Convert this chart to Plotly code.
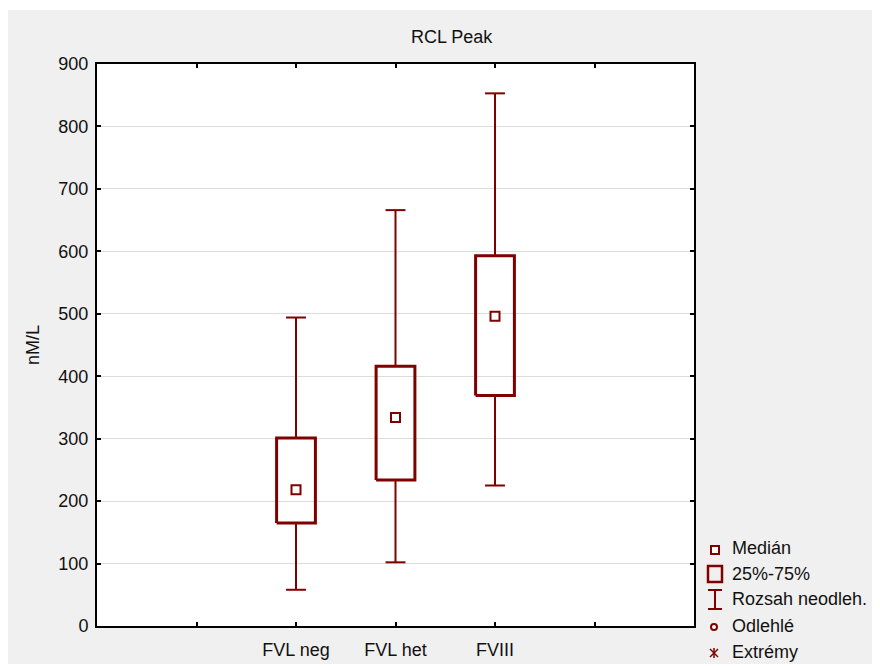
import plotly.graph_objects as go

# ---- data ----
categories = ["FVL neg", "FVL het", "FVIII"]
cat_pos = [2, 3, 4]
whisker_low = [58, 102, 225]
q1 = [165, 234, 369]
median = [218, 334, 496]
q3 = [301, 416, 593]
whisker_high = [494, 666, 853]

y_ticks = [0, 100, 200, 300, 400, 500, 600, 700, 800, 900]
x_tick_vals = [0, 1, 2, 3, 4, 5, 6]
x_tick_text = ["", "", "FVL neg", "FVL het", "FVIII", "", ""]

legend_labels = ["Medián", "25%-75%", "Rozsah neodleh.", "Odlehlé", "Extrémy"]

RED = "#800000"
FONT = "Liberation Sans, Arial"
FS = 18
OFF = 8                       # page offset of the figure (body margin)
W, H = 872, 656               # figure size
L, R, T, B = 97, 694, 64, 626  # plot area in page pixels


def px(x):
    return (x - L) / (R - L)


def py(y):
    return (B - y) / (B - T)


fig = go.Figure()

box_half = 0.195
cap_half = 0.1
shapes = []
# gray panel + white plot area
shapes.append(dict(type="rect", xref="paper", yref="paper", x0=px(0), x1=px(900), y0=py(700), y1=py(10),
                   fillcolor="#f0f0f0", line=dict(width=0), layer="below"))
shapes.append(dict(type="rect", xref="paper", yref="paper", x0=0, x1=1, y0=0, y1=1,
                   fillcolor="white", line=dict(width=0), layer="below"))

for i, x in enumerate(cat_pos):
    # whiskers
    fig.add_trace(go.Scatter(
        x=[x, x, None, x, x, None, x - cap_half, x + cap_half, None, x - cap_half, x + cap_half],
        y=[whisker_low[i], q1[i], None, q3[i], whisker_high[i], None,
           whisker_low[i], whisker_low[i], None, whisker_high[i], whisker_high[i]],
        mode="lines", line=dict(color=RED, width=2), showlegend=False, hoverinfo="skip"))
    # box
    fig.add_trace(go.Scatter(
        x=[x - box_half, x + box_half, x + box_half, x - box_half, x - box_half],
        y=[q1[i], q1[i], q3[i], q3[i], q1[i]],
        mode="lines", line=dict(color=RED, width=3), showlegend=False, hoverinfo="skip"))
    # median
    fig.add_trace(go.Scatter(
        x=[x], y=[median[i]], mode="markers",
        marker=dict(symbol="square", size=9, color="white", line=dict(color=RED, width=2)),
        showlegend=False, hoverinfo="skip"))

# ---- custom legend ----
leg_rows = [548, 574, 599, 626, 652]
text_x = 730
annotations = []
for lab, yy in zip(legend_labels, leg_rows):
    annotations.append(dict(xref="paper", yref="paper", x=px(text_x), y=py(yy), text=lab,
                            showarrow=False, xanchor="left", yanchor="middle",
                            font=dict(family=FONT, size=FS, color="#111111")))
# Median icon
shapes.append(dict(type="rect", xref="paper", yref="paper", x0=px(711), x1=px(719),
                   y0=py(554), y1=py(546), line=dict(color=RED, width=2), fillcolor="white"))
# 25-75 icon
shapes.append(dict(type="rect", xref="paper", yref="paper", x0=px(708), x1=px(722),
                   y0=py(582), y1=py(566), line=dict(color=RED, width=2.5), fillcolor="rgba(0,0,0,0)"))
# whisker icon
shapes.append(dict(type="line", xref="paper", yref="paper", x0=px(715), x1=px(715),
                   y0=py(609), y1=py(590), line=dict(color=RED, width=2)))
shapes.append(dict(type="line", xref="paper", yref="paper", x0=px(708), x1=px(722),
                   y0=py(590), y1=py(590), line=dict(color=RED, width=2)))
shapes.append(dict(type="line", xref="paper", yref="paper", x0=px(708), x1=px(722),
                   y0=py(609), y1=py(609), line=dict(color=RED, width=2)))
# outlier icon
shapes.append(dict(type="circle", xref="paper", yref="paper", x0=px(711), x1=px(717),
                   y0=py(630), y1=py(624), line=dict(color=RED, width=2), fillcolor="white"))
# extreme icon (asterisk drawn as lines)
cx, cy, r = 714, 653, 4
shapes.append(dict(type="line", xref="paper", yref="paper", x0=px(cx), x1=px(cx),
                   y0=py(cy - r - 1), y1=py(cy + r + 1), line=dict(color=RED, width=1.5)))
shapes.append(dict(type="line", xref="paper", yref="paper", x0=px(cx - r), x1=px(cx + r),
                   y0=py(cy - r), y1=py(cy + r), line=dict(color=RED, width=1.5)))
shapes.append(dict(type="line", xref="paper", yref="paper", x0=px(cx - r), x1=px(cx + r),
                   y0=py(cy + r), y1=py(cy - r), line=dict(color=RED, width=1.5)))

# title & y-axis title
annotations.append(dict(xref="paper", yref="paper", x=px(452), y=py(37), text="RCL Peak",
                        showarrow=False, xanchor="center", yanchor="middle",
                        font=dict(family=FONT, size=FS, color="#111111")))
annotations.append(dict(xref="paper", yref="paper", x=px(33), y=py(345), text="nM/L",
                        showarrow=False, xanchor="center", yanchor="middle", textangle=-90,
                        font=dict(family=FONT, size=FS, color="#111111")))

axis_common = dict(showline=True, linecolor="black", linewidth=2, mirror="ticks",
                   ticks="inside", ticklen=4, tickwidth=2, tickcolor="black",
                   tickfont=dict(family=FONT, size=FS, color="#111111"),
                   zeroline=False, automargin=False)

fig.update_layout(
    width=W, height=H,
    margin=dict(l=L - OFF, r=W - (R - OFF), t=T - OFF, b=H - (B - OFF), pad=0, autoexpand=False),
    paper_bgcolor="white", plot_bgcolor="white",
    shapes=shapes, annotations=annotations, showlegend=False,
    xaxis=dict(range=[0, 6], tickvals=x_tick_vals, ticktext=x_tick_text, showgrid=False,
               ticklabelstandoff=6, **axis_common),
    yaxis=dict(range=[0, 900], tickvals=y_ticks, showgrid=True, gridcolor="#dcdcdc", gridwidth=1,
               ticklabelstandoff=3, **axis_common),
)

fig.write_html("out.html")
